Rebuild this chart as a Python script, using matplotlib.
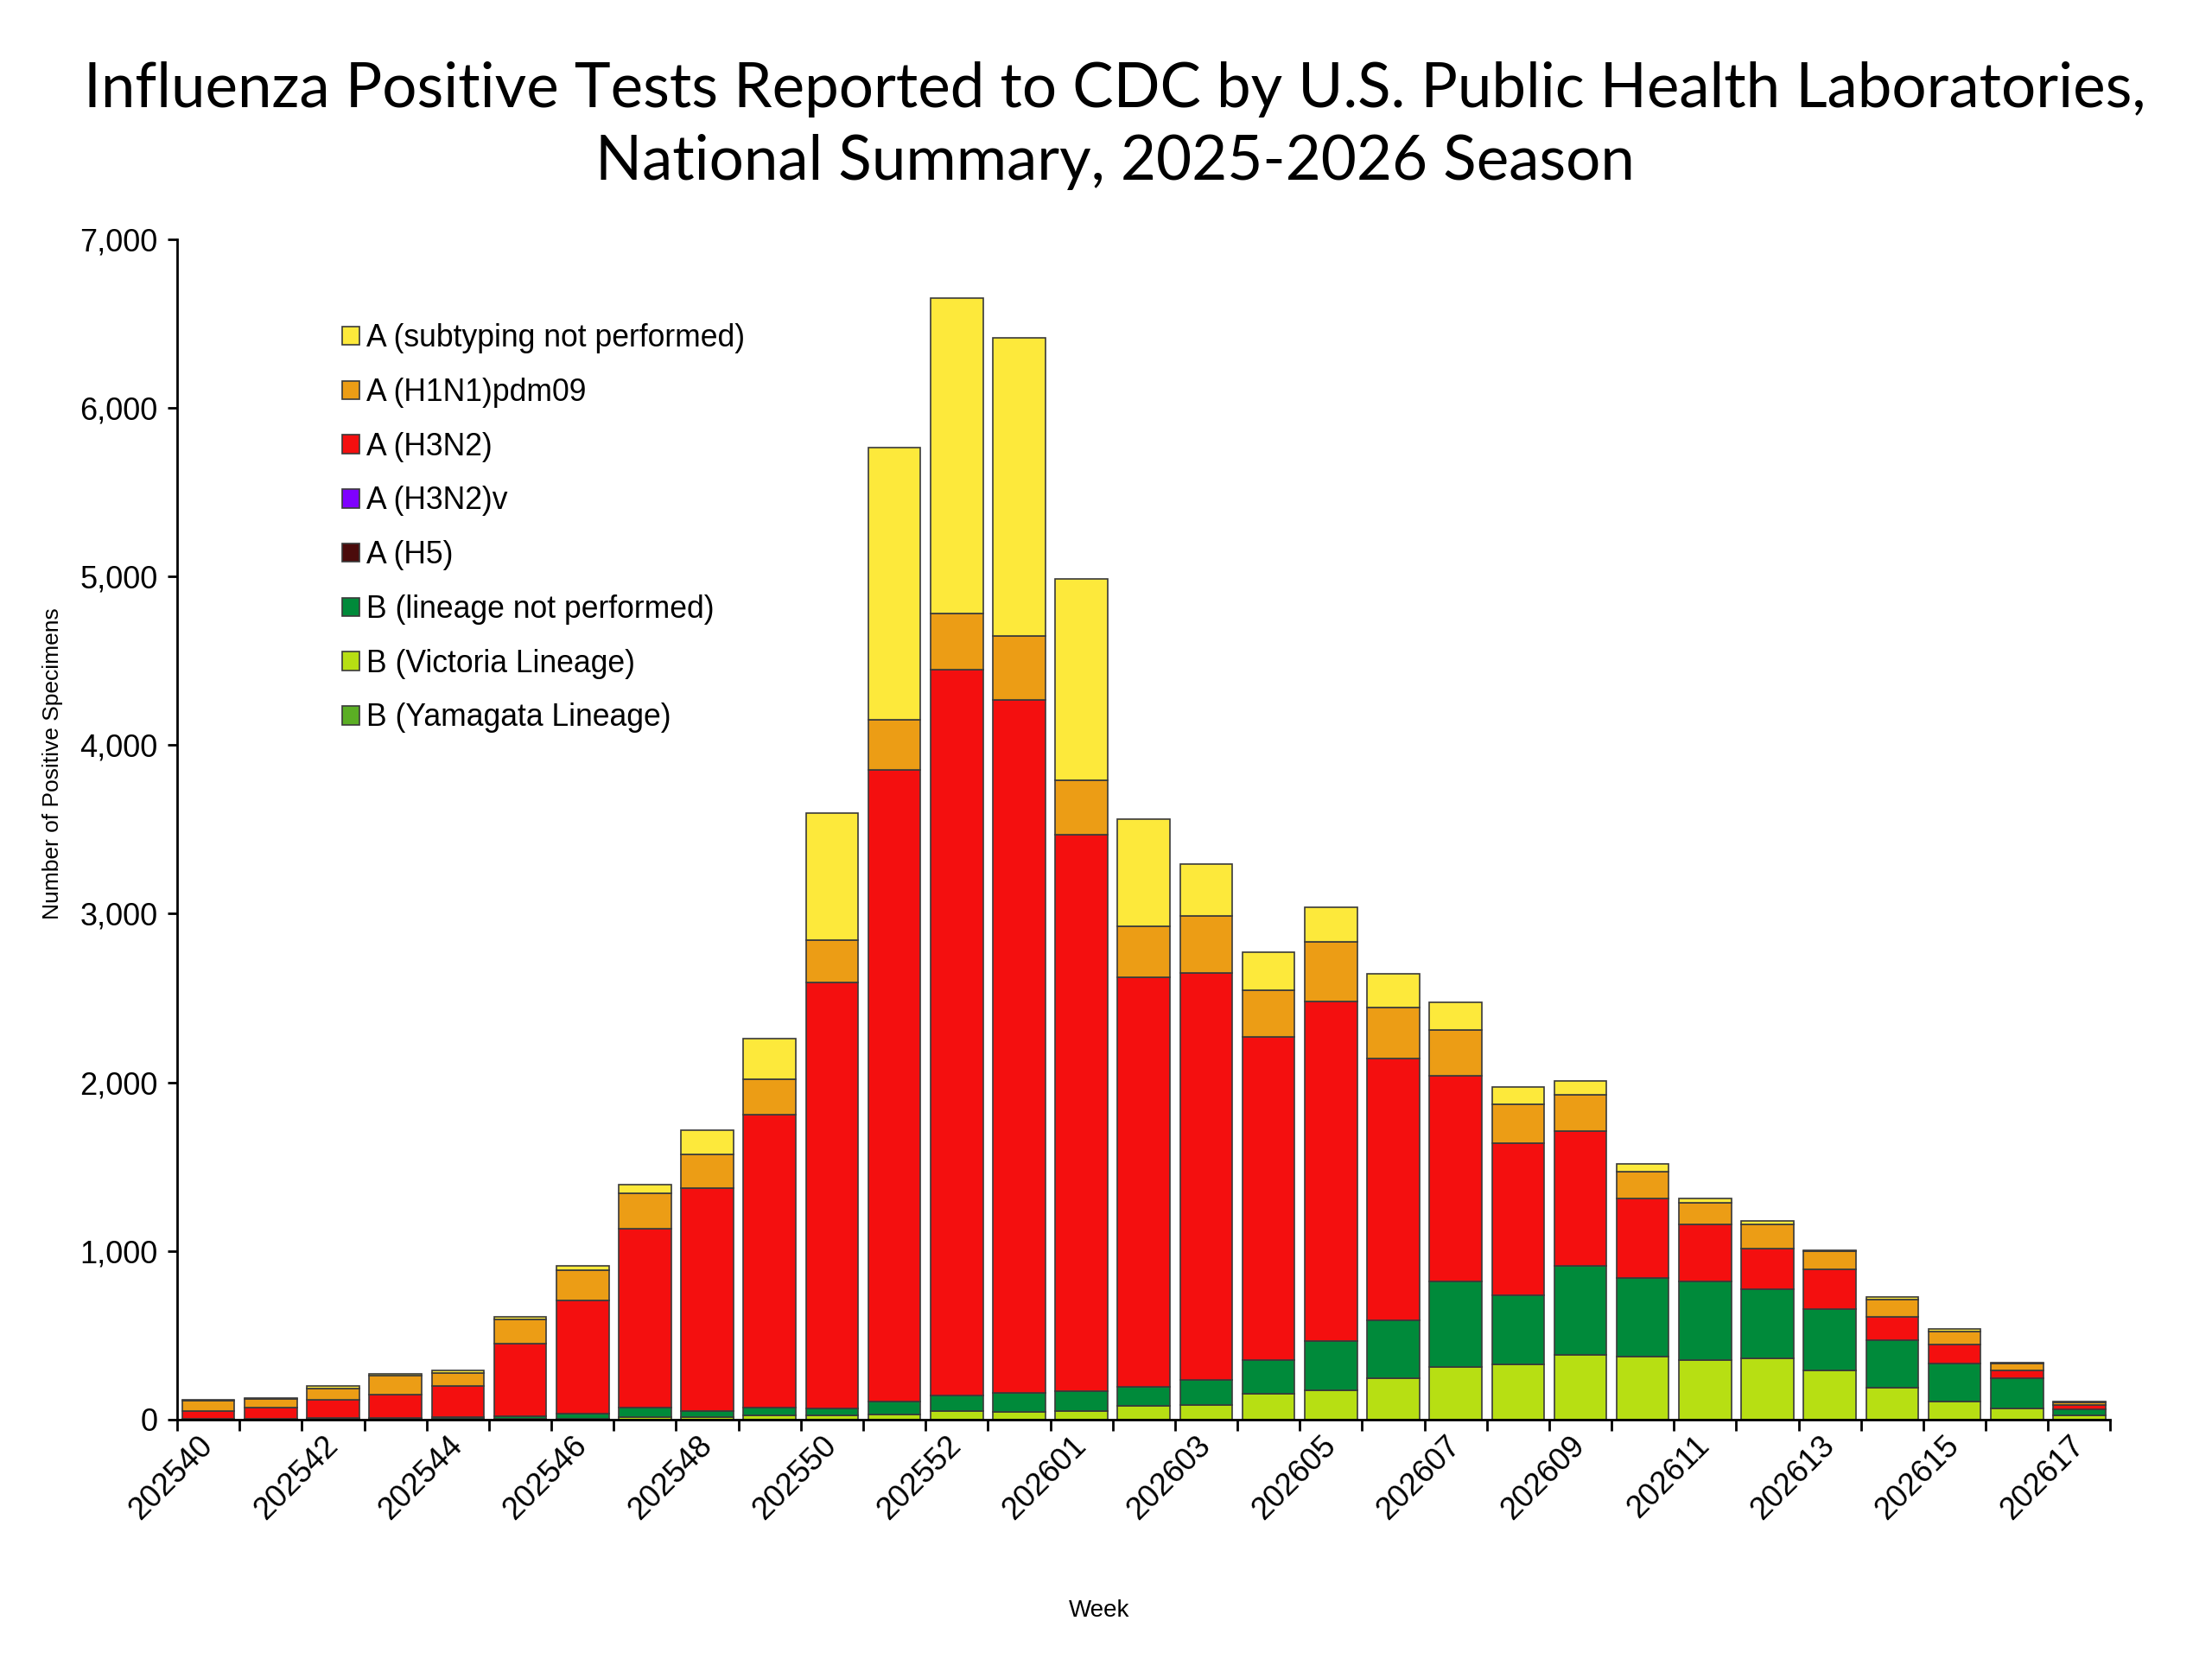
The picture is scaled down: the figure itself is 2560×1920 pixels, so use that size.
import matplotlib
matplotlib.use("Agg")
import matplotlib.pyplot as plt
import numpy as np
from matplotlib.ticker import FuncFormatter, FixedLocator

weeks = ["202540", "202541", "202542", "202543", "202544", "202545", "202546", "202547",
         "202548", "202549", "202550", "202551", "202552", "202553", "202601", "202602",
         "202603", "202604", "202605", "202606", "202607", "202608", "202609", "202610",
         "202611", "202612", "202613", "202614", "202615", "202616", "202617"]

b_victoria = [1, 1, 3, 3, 3, 4, 7, 14, 14, 24, 24, 31, 50, 47, 50, 80, 89, 154, 173, 247,
              312, 327, 386, 372, 353, 362, 290, 190, 108, 68, 24]
b_yamagata = [0] * 31
b_not_performed = [3, 3, 8, 6, 11, 17, 29, 58, 38, 50, 40, 78, 95, 110, 121, 115, 147, 199,
                   293, 342, 509, 409, 524, 466, 464, 413, 368, 280, 226, 179, 36]
a_h5 = [0] * 31
a_h3n2v = [0] * 31
a_h3n2 = [46, 65, 108, 140, 187, 432, 673, 1060, 1319, 1732, 2529, 3741, 4304, 4109, 3297,
          2428, 2410, 1917, 2014, 1553, 1217, 905, 799, 474, 340, 241, 234, 138, 112, 47, 28]
a_h1n1 = [64, 53, 63, 113, 74, 139, 178, 209, 204, 210, 250, 302, 329, 380, 322, 304, 340,
          274, 355, 302, 273, 230, 218, 160, 127, 142, 106, 104, 78, 41, 14]
a_not_subtyped = [5, 5, 16, 10, 17, 19, 27, 51, 141, 242, 753, 1614, 1871, 1770, 1194, 633,
                  309, 226, 201, 198, 164, 102, 80, 42, 26, 18, 5, 13, 15, 3, 3]

# stacking order: bottom -> top
series = [
    ("B (Victoria Lineage)", b_victoria, "#B7DF13"),
    ("B (Yamagata Lineage)", b_yamagata, "#5BAE24"),
    ("B (lineage not performed)", b_not_performed, "#008A3A"),
    ("A (H5)", a_h5, "#4B0B0B"),
    ("A (H3N2)v", a_h3n2v, "#7F00FF"),
    ("A (H3N2)", a_h3n2, "#F40F0F"),
    ("A (H1N1)pdm09", a_h1n1, "#EC9D15"),
    ("A (subtyping not performed)", a_not_subtyped, "#FDE93B"),
]
legend_order = ["A (subtyping not performed)", "A (H1N1)pdm09", "A (H3N2)", "A (H3N2)v",
                "A (H5)", "B (lineage not performed)", "B (Victoria Lineage)",
                "B (Yamagata Lineage)"]

plt.rcParams["font.family"] = ["Liberation Sans", "DejaVu Sans"]

fig = plt.figure(figsize=(12.8, 9.6), dpi=200)
ax = fig.add_axes([0.0801, 0.1443, 0.874, 0.7116])

x = np.arange(len(weeks))
bottom = np.zeros(len(weeks))
handles = {}
for name, vals, col in series:
    v = np.array(vals, dtype=float)
    bars = ax.bar(x, v, width=0.84, bottom=bottom, color=col, edgecolor="#3a3a3a",
                  linewidth=0.6, label=name, zorder=2)
    handles[name] = bars
    bottom += v

ax.set_xlim(-0.5, len(weeks) - 0.5)
ax.set_ylim(0, 7000)
ax.set_yticks(np.arange(0, 7001, 1000))
ax.yaxis.set_major_formatter(FuncFormatter(lambda v, p: f"{int(v):,}"))
ax.tick_params(axis="y", labelsize=13, length=4, width=1, direction="out", pad=4)

ax.set_xticks(x[::2])
ax.set_xticklabels(weeks[::2], rotation=45, ha="right", va="center",
                   rotation_mode="anchor", fontsize=13)
ax.tick_params(axis="x", which="major", length=0, pad=9)
ax.xaxis.set_minor_locator(FixedLocator(np.arange(-0.5, len(weeks), 1.0)))
ax.tick_params(axis="x", which="minor", length=4.5, width=1, direction="out")

for s in ["top", "right"]:
    ax.spines[s].set_visible(False)
for s in ["left", "bottom"]:
    ax.spines[s].set_linewidth(1.0)

ax.set_ylabel("Number of Positive Specimens", fontsize=9.5)
ax.yaxis.set_label_coords(-0.0592, 0.556)
fig.text(0.497, 0.029, "Week", fontsize=10, ha="center", va="center")

leg = ax.legend([handles[n] for n in legend_order], legend_order, loc="upper left",
                bbox_to_anchor=(0.0792, 0.939), frameon=False, fontsize=12.8,
                handlelength=0.55, handleheight=0.55, handletextpad=0.22,
                labelspacing=0.78, borderaxespad=0)

fig.text(0.504, 0.963, "Influenza Positive Tests Reported to CDC by U.S. Public Health Laboratories,\nNational Summary, 2025-2026 Season",
         ha="center", va="top", fontsize=25.5, family=["Lato", "DejaVu Sans"],
         linespacing=1.36)

fig.savefig("out.png", dpi=200, facecolor="white")
